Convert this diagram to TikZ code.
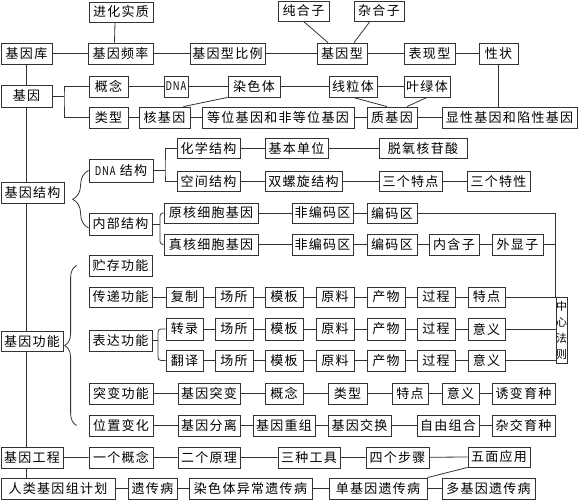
\documentclass[tikz,border=0pt]{standalone}
\usepackage{fontspec}
\setmainfont{Noto Sans CJK SC}[LetterSpace=10]
\usetikzlibrary{decorations.pathreplacing}

\begin{document}
\begin{tikzpicture}
   [x=1pt, y=-1pt,
   box/.style={rectangle, draw=black!80, fill=white, line width=0.8pt, inner sep=1pt, minimum height=21pt, font=\fontsize{13}{15}\selectfont},
   link/.style={draw=black!80, line width=0.8pt},
   bracelink/.style={draw=black!80, line width=0.8pt, decorate, decoration={brace, amplitude=#1}},
   ]
 \useasboundingbox (0,0) rectangle (581,500);
 % top rows
 \node at (121,12) [box, minimum width=64pt, minimum height=20pt] (jhsz) {进化实质};
 \node at (303.5,11) [box, minimum width=51pt, minimum height=20pt] (chz) {纯合子};
 \node at (379,11) [box, minimum width=50pt, minimum height=20pt] (zhz) {杂合子};
 \node at (26.5,53.5) [box, minimum width=51pt] (jyk) {基因库};
 \node at (120.5,53.5) [box, minimum width=65pt] (jypl) {基因频率};
 \node at (227.5,53.5) [box, minimum width=75pt] (jyxbl) {基因型比例};
 \node at (342,53.5) [box, minimum width=50pt] (jyx) {基因型};
 \node at (429.5,53.5) [box, minimum width=51pt] (bxx) {表现型};
 \node at (498.5,53.5) [box, minimum width=39pt] (xz) {性状};
 % gene
 \node at (26.5,96) [box, minimum width=51pt, minimum height=22pt] (jy) {基因};
 \node at (108.5,86.5) [box, minimum width=39pt] (gn) {概念};
 \node at (176,86.5) [box, minimum width=24pt, font=\fontsize{12}{14}\selectfont] (dna) {\scalebox{0.78}[1]{DNA}};
 \node at (254,86.5) [box, minimum width=52pt] (rst) {染色体};
 \node at (353,86.5) [box, minimum width=48pt] (xlt) {线粒体};
 \node at (427,86.5) [box, minimum width=46pt] (ylt) {叶绿体};
 \node at (108.5,117.5) [box, minimum width=39pt] (lx) {类型};
 \node at (164.5,117.5) [box, minimum width=51pt] (hjy) {核基因};
 \node at (278,117.5) [box, minimum width=152pt] (dwjy) {等位基因和非等位基因};
 \node at (392,117.5) [box, minimum width=50pt] (zjy) {质基因};
 \node at (509.5,117.5) [box, minimum width=135pt] (xxjy) {显性基因和陷性基因};
 % structure
 \node at (32.5,192.5) [box, minimum width=63pt] (jyjg) {基因结构};
 \node at (121,170.5) [box, minimum width=64pt, minimum height=23pt] (dnajg) {{\fontsize{12}{14}\selectfont\scalebox{0.78}[1]{DNA}} 结构};
 \node at (208.5,148.5) [box, minimum width=63pt, minimum height=20pt] (hxjg) {化学结构};
 \node at (208.5,181.5) [box, minimum width=63pt, minimum height=20pt] (kjjg) {空间结构};
 \node at (296.5,148.5) [box, minimum width=63pt, minimum height=20pt] (jbdw) {基本单位};
 \node at (303.5,181.5) [box, minimum width=77pt, minimum height=20pt] (slxjg) {双螺旋结构};
 \node at (423,148.5) [box, minimum width=88pt, minimum height=20pt] (tyhgs) {脱氧核苷酸};
 \node at (410.5,181.5) [box, minimum width=63pt, minimum height=20pt] (sgtd) {三个特点};
 \node at (498.5,181.5) [box, minimum width=63pt, minimum height=20pt] (sgtx) {三个特性};
 \node at (120.5,224) [box, minimum width=63pt, minimum height=22pt] (nbjg) {内部结构};
 \node at (211,213) [box, minimum width=94pt, minimum height=20pt] (yhjy) {原核细胞基因};
 \node at (211,244.5) [box, minimum width=94pt] (zhjy) {真核细胞基因};
 \node at (322.5,213) [box, minimum width=61pt, minimum height=20pt] (fbm1) {非编码区};
 \node at (392,213) [box, minimum width=50pt, minimum height=20pt] (bm1) {编码区};
 \node at (322.5,244.5) [box, minimum width=61pt] (fbm2) {非编码区};
 \node at (392,244.5) [box, minimum width=50pt] (bm2) {编码区};
 \node at (454,244.5) [box, minimum width=50pt] (nhz) {内含子};
 \node at (517.5,244.5) [box, minimum width=51pt] (wxz) {外显子};
 % function
 \node at (32,341.5) [box, minimum width=62pt, minimum height=20pt] (jygn) {基因功能};
 \node at (120.5,265.5) [box, minimum width=63pt] (zcgn) {贮存功能};
 \node at (120.5,297) [box, minimum width=63pt, minimum height=20pt] (cdgn) {传递功能};
 \node at (120.5,340.5) [box, minimum width=63pt] (bdgn) {表达功能};
 \node at (184.5,297) [box, minimum width=37pt, minimum height=20pt] (fz) {复制};
 \node at (234,297) [box, minimum width=38pt, minimum height=20pt] (cs1) {场所};
 \node at (284,297) [box, minimum width=38pt, minimum height=20pt] (mb1) {模板};
 \node at (335,297) [box, minimum width=38pt, minimum height=20pt] (yl1) {原料};
 \node at (386,297) [box, minimum width=38pt, minimum height=20pt] (cw1) {产物};
 \node at (436,297) [box, minimum width=38pt, minimum height=20pt] (gc1) {过程};
 \node at (486.5,297) [box, minimum width=37pt, minimum height=20pt] (td1) {特点};
 \node at (184.5,329) [box, minimum width=37pt, minimum height=22pt] (zl) {转录};
 \node at (234,329) [box, minimum width=38pt, minimum height=22pt] (cs2) {场所};
 \node at (284,329) [box, minimum width=38pt, minimum height=22pt] (mb2) {模板};
 \node at (335,329) [box, minimum width=38pt, minimum height=22pt] (yl2) {原料};
 \node at (386,329) [box, minimum width=38pt, minimum height=22pt] (cw2) {产物};
 \node at (436,329) [box, minimum width=38pt, minimum height=22pt] (gc2) {过程};
 \node at (486.5,329) [box, minimum width=37pt, minimum height=22pt] (yy1) {意义};
 \node at (184.5,360.5) [box, minimum width=37pt] (fy) {翻译};
 \node at (234,360.5) [box, minimum width=38pt] (cs3) {场所};
 \node at (284,360.5) [box, minimum width=38pt] (mb3) {模板};
 \node at (335,360.5) [box, minimum width=38pt] (yl3) {原料};
 \node at (386,360.5) [box, minimum width=38pt] (cw3) {产物};
 \node at (436,360.5) [box, minimum width=38pt] (gc3) {过程};
 \node at (486.5,360.5) [box, minimum width=37pt] (yy2) {意义};
 \node at (561.5,330) [box, minimum width=11pt, minimum height=66pt, inner sep=0pt, align=center, font=\fontsize{11}{16}\selectfont] (zxfz) {中\\心\\法\\则};
 \node at (121,393.5) [box, minimum width=64pt] (tbgn) {突变功能};
 \node at (209,393.5) [box, minimum width=62pt] (jytb) {基因突变};
 \node at (284,393.5) [box, minimum width=38pt] (gn2) {概念};
 \node at (347.5,393.5) [box, minimum width=39pt] (lx2) {类型};
 \node at (410,393.5) [box, minimum width=36pt] (td2) {特点};
 \node at (460.5,393.5) [box, minimum width=37pt] (yy3) {意义};
 \node at (523.5,393.5) [box, minimum width=63pt] (bbyz) {诱变育种};
 \node at (121,425.5) [box, minimum width=64pt] (wzbh) {位置变化};
 \node at (209,425.5) [box, minimum width=62pt] (jyfl) {基因分离};
 \node at (284,425.5) [box, minimum width=62pt] (jycz) {基因重组};
 \node at (359.5,425.5) [box, minimum width=63pt] (jyjh) {基因交换};
 \node at (448,425.5) [box, minimum width=62pt] (zyzh) {自由组合};
 \node at (523.5,425.5) [box, minimum width=63pt] (zjyz) {杂交育种};
 % engineering
 \node at (32,457.5) [box, minimum width=62pt] (jygc) {基因工程};
 \node at (121,457.5) [box, minimum width=64pt] (ygn) {一个概念};
 \node at (209,457.5) [box, minimum width=62pt] (eyl) {二个原理};
 \node at (309,457.5) [box, minimum width=62pt] (szgj) {三种工具};
 \node at (397.5,457.5) [box, minimum width=63pt] (sgbz) {四个步骤};
 \node at (499,457) [box, minimum width=62pt, minimum height=20pt] (wmyy) {五面应用};
 \node at (58,488.5) [box, minimum width=114pt] (rlj) {人类基因组计划};
 \node at (152.5,488.5) [box, minimum width=49pt] (ycb) {遗传病};
 \node at (250.5,488.5) [box, minimum width=123pt] (rstyc) {染色体异常遗传病};
 \node at (378,488.5) [box, minimum width=98pt] (djy) {单基因遗传病};
 \node at (488.5,488.5) [box, minimum width=93pt] (dujy) {多基因遗传病};

 % links
 \draw[link] ([xshift=-6pt]jhsz.south) -- ([xshift=-6pt]jypl.north);
 \draw[link] (chz.south) -- ([xshift=-14pt]jyx.north);
 \draw[link] ([xshift=-9pt]zhz.south) -- ([xshift=12pt]jyx.north);
 \draw[link] (jyk) -- (jypl) -- (jyxbl) -- (jyx) -- (bxx) -- (xz);
 \draw[link] (xz.south) -- (xz.south |- xxjy.north);
 \draw[link] (jyk) -- (jy);
 \draw[link] (gn.west) -| (64,0 |- jy.east) |- (lx.west);
 \draw[link] (jy.east) -- (64,0 |- jy.east);
 \draw[link] (gn) -- (dna) -- (rst) -- (xlt) -- (ylt);
 \draw[link] (lx) -- (hjy) -- (dwjy) -- (zjy) -- (xxjy);
 \draw[link] (rst.south west) -- ([xshift=-7pt]hjy.north east);
 \draw[link] (xlt.south) -- ([xshift=-5pt]zjy.north);
 \draw[link] (ylt.south) -- ([xshift=15pt]zjy.north);
 % main line
 \draw[link] (jy.south) -- (jy.south |- jyjg.north);
 \draw[link] (jy.south |- jyjg.south) -- (jy.south |- jygn.north);
 \draw[link] (jy.south |- jygn.south) -- (jy.south |- jygc.north);
 \draw[link] (jy.south |- jygc.south) -- (jy.south |- rlj.north);
 % structure links
 \draw[bracelink=16pt] ([yshift=-4pt]nbjg.west) -- (dnajg.west);
 \draw[link] (hxjg.west) -| (165,0 |- dnajg.east) |- (kjjg.west);
 \draw[link] (dnajg.east) -- (165,0 |- dnajg.east);
 \draw[link] (hxjg) -- (jbdw) -- (tyhgs);
 \draw[link] (kjjg) -- (slxjg) -- (sgtd) -- (sgtx);
 \draw[link, rounded corners=3pt] (yhjy.west) -| (160,0 |- nbjg.east) |- (zhjy.west);
 \draw[link] (nbjg.east) -- (160,0 |- nbjg.east);
 \draw[link] (yhjy) -- (fbm1) -- (bm1);
 \draw[link] (zhjy) -- (fbm2) -- (bm2) -- (nhz) -- (wxz);
 \draw[link] (bm1.east) -| (zxfz.north west);
 \draw[link] (wxz.east) -- (wxz.east -| zxfz.west);
 % function links
 \draw[bracelink=12pt] ([xshift=-12pt]wzbh.west) -- ([xshift=-12pt]zcgn.west);
 \draw[link] (cdgn) -- (fz) -- (cs1) -- (mb1) -- (yl1) -- (cw1) -- (gc1) -- (td1);
 \draw[link] (td1.east) -- (td1.east -| zxfz.west);
 \draw[link, rounded corners=3pt] (zl.west) -| (158,0 |- bdgn.east) |- (fy.west);
 \draw[link] (bdgn.east) -- (158,0 |- bdgn.east);
 \draw[link] (zl) -- (cs2) -- (mb2) -- (yl2) -- (cw2) -- (gc2) -- (yy1);
 \draw[link] (fy) -- (cs3) -- (mb3) -- (yl3) -- (cw3) -- (gc3) -- (yy2);
 \draw[link] (yy1.east) -- (yy1.east -| zxfz.west);
 \draw[link] (yy2.east) -- (yy2.east -| zxfz.west);
 \draw[link] (tbgn) -- (jytb) -- (gn2) -- (lx2) -- (td2) -- (yy3) -- (bbyz);
 \draw[link] (wzbh) -- (jyfl) -- (jycz) -- (jyjh) -- (zyzh) -- (zjyz);
 % engineering links
 \draw[link] (jygc) -- (ygn) -- (eyl) -- (szgj) -- (sgbz) -- (wmyy.west);
 \draw[link] (rlj) -- (ycb) -- (rstyc) -- (djy) -- (dujy);
 \draw[link] (djy.north east) -- (wmyy.south west);
\end{tikzpicture}
\end{document}
